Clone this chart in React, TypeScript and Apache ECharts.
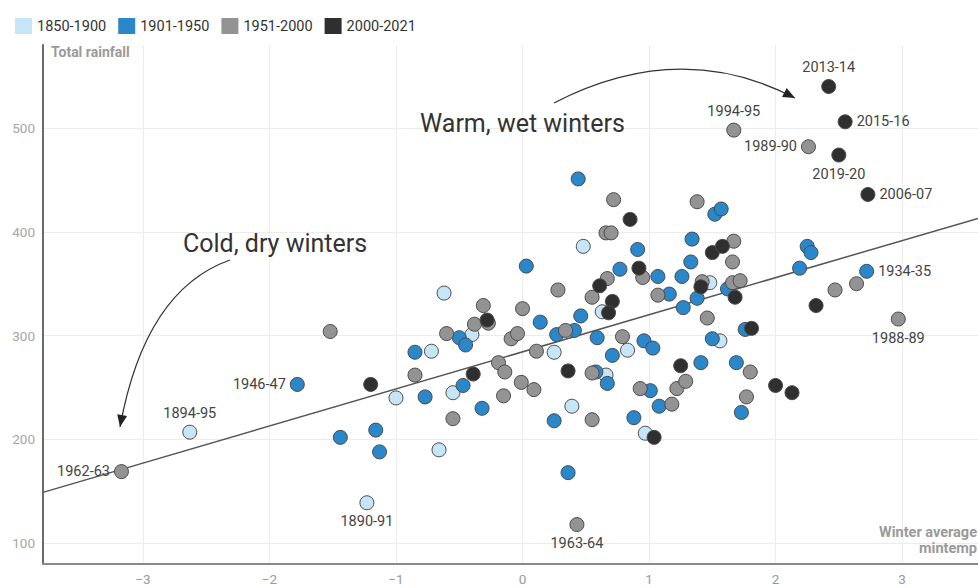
import React, { useEffect, useRef } from 'react';
import * as echarts from 'echarts';

const seriesNames = ['1850-1900', '1901-1950', '1951-2000', '2000-2021'];
const seriesColors = ['#c6e6f8', '#2a87c9', '#939393', '#2f2f2f'];

// [winter average min temp, total rainfall, label?]
const data1850: (number | string)[][] = [
  [-1.23, 139, '1890-91'], [-2.63, 207, '1894-95'], [-1.0, 240], [-0.66, 190], [-0.62, 341],
  [-0.4, 301], [-0.72, 285], [-0.55, 245], [0.25, 284], [0.39, 232], [0.48, 386], [0.63, 323],
  [0.66, 262], [0.83, 286], [0.97, 206], [1.48, 351], [1.56, 295],
];

const data1901: (number | string)[][] = [
  [-1.78, 253, '1946-47'], [-1.44, 202], [-1.16, 209], [-1.13, 188], [-0.85, 284], [-0.77, 241],
  [-0.5, 298], [-0.45, 291], [-0.47, 252], [-0.32, 230], [0.03, 367], [0.44, 451], [0.14, 313],
  [0.27, 301], [0.41, 305], [0.46, 319], [0.59, 298], [0.25, 218], [0.36, 168], [0.71, 281],
  [0.58, 265], [0.67, 254], [0.77, 364], [0.91, 383], [0.88, 221], [0.96, 295], [1.03, 288],
  [1.01, 247], [1.07, 357], [1.08, 232], [1.16, 340], [1.26, 357], [1.27, 327], [1.33, 371],
  [1.34, 393], [1.38, 336], [1.41, 274], [1.5, 297], [1.52, 417], [1.57, 422], [1.62, 345],
  [1.69, 274], [1.73, 226], [1.76, 306], [2.19, 365], [2.25, 386], [2.28, 380], [2.72, 362, '1934-35'],
];

const data1951: (number | string)[][] = [
  [-3.17, 169, '1962-63'], [-1.52, 304], [-0.85, 262], [-0.6, 302], [-0.55, 220], [-0.38, 311],
  [-0.31, 329], [-0.27, 312], [-0.19, 274], [-0.14, 265], [-0.15, 242], [-0.09, 297], [-0.04, 302],
  [0.0, 326], [-0.01, 255], [0.09, 248], [0.11, 285], [0.28, 344], [0.34, 305], [0.43, 118, '1963-64'],
  [0.55, 337], [0.55, 264], [0.55, 219], [0.66, 399], [0.7, 399], [0.67, 355], [0.72, 431],
  [0.79, 299], [0.93, 249], [0.95, 356], [1.07, 339], [1.22, 249], [1.29, 256], [1.18, 234],
  [1.38, 429], [1.42, 352], [1.46, 317], [1.66, 371], [1.67, 391], [1.66, 351], [1.72, 353],
  [1.8, 265], [1.77, 241], [1.67, 498, '1994-95'], [2.26, 482, '1989-90'], [2.47, 344], [2.64, 350],
  [2.97, 316, '1988-89'],
];

const data2000: (number | string)[][] = [
  [-1.2, 253], [-0.39, 263], [-0.28, 315], [0.36, 266], [0.61, 348], [0.71, 333], [0.68, 322],
  [0.85, 412], [0.92, 365], [1.04, 202], [1.25, 271], [1.41, 347], [1.5, 380], [1.58, 386],
  [1.68, 337], [1.81, 307], [2.0, 252], [2.13, 245], [2.32, 329], [2.42, 540, '2013-14'],
  [2.55, 506, '2015-16'], [2.5, 474, '2019-20'], [2.73, 436, '2006-07'],
];

const allData = [data1850, data1901, data1951, data2000];

// trend line end points
const trendLine: number[][] = [[-3.79, 149], [3.6, 413]];

const labelPosition: Record<string, string> = {
  '2013-14': 'top', '2015-16': 'right', '1994-95': 'top', '1989-90': 'left', '2019-20': 'bottom',
  '2006-07': 'right', '1934-35': 'right', '1988-89': 'bottom', '1962-63': 'left', '1894-95': 'top',
  '1946-47': 'left', '1890-91': 'bottom', '1963-64': 'bottom',
};

const FONT = 'Roboto, "Noto Sans", sans-serif';

function arrowHead(tx: number, ty: number, fx: number, fy: number) {
  const dx = tx - fx;
  const dy = ty - fy;
  const len = Math.sqrt(dx * dx + dy * dy);
  const ux = dx / len;
  const uy = dy / len;
  const bx = tx - ux * 12;
  const by = ty - uy * 12;
  const nx = -uy;
  const ny = ux;
  return {
    type: 'polygon',
    shape: { points: [[tx, ty], [bx + nx * 5, by + ny * 5], [bx - nx * 5, by - ny * 5]] },
    style: { fill: '#222' },
    z: 100,
  };
}

export default function App() {
  const ref = useRef<HTMLDivElement>(null);
  useEffect(() => {
    if (!ref.current) return;
    const chart = echarts.init(ref.current, undefined, { renderer: 'svg' });

    const scatterSeries = allData.map((arr, i) => ({
      name: seriesNames[i],
      type: 'scatter',
      symbolSize: 14,
      itemStyle: { color: seriesColors[i], borderColor: '#4a4a4a', borderWidth: 1, opacity: 1 },
      z: 3,
      data: arr.map((d) => {
        const item: any = { value: [d[0], d[1]] };
        if (d[2]) {
          item.name = d[2];
          item.label = {
            show: true,
            position: labelPosition[d[2] as string],
            formatter: d[2],
            color: '#444',
            fontSize: 14.5,
            fontFamily: FONT,
            distance: 4,
          };
        }
        return item;
      }),
    }));

    const warm = { x1: 554, y1: 103, cpx1: 680, cpy1: 38, x2: 795, y2: 98 };
    const cold = { x1: 230, y1: 260, cpx1: 145, cpy1: 290, x2: 120, y2: 427 };

    chart.setOption({
      animation: false,
      textStyle: { fontFamily: FONT },
      legend: {
        data: seriesNames,
        left: 10,
        top: 13,
        icon: 'rect',
        itemWidth: 17,
        itemHeight: 16,
        itemGap: 12,
        itemStyle: { borderWidth: 0 },
        textStyle: { fontSize: 14.5, color: '#333', fontFamily: FONT },
      },
      grid: { left: 43, top: 45, width: 936, height: 519 },
      xAxis: {
        type: 'value',
        min: -3.79,
        max: 3.6,
        splitNumber: 8,
        minInterval: 1,
        maxInterval: 1,
        axisLine: { show: true, onZero: false, lineStyle: { color: '#8a8a8a', width: 2 } },
        axisTick: { show: false },
        axisLabel: {
          color: '#9a9a9a',
          fontSize: 13.5,
          margin: 8,
          showMinLabel: false,
          showMaxLabel: false,
          formatter: (v: number) => (Number.isInteger(v) ? (v < 0 ? '\u2212' + Math.abs(v) : String(v)) : ''),
        },
        splitLine: { show: true, showMinLine: false, showMaxLine: false, lineStyle: { color: '#ececec', width: 1 } },
      },
      yAxis: {
        type: 'value',
        min: 80,
        max: 580,
        splitNumber: 5,
        minInterval: 100,
        maxInterval: 100,
        axisLine: { show: true, onZero: false, lineStyle: { color: '#6a6a6a', width: 2 } },
        axisTick: { show: false },
        axisLabel: {
          color: '#a5a5a5',
          fontSize: 13.5,
          margin: 8,
          showMinLabel: false,
          showMaxLabel: false,
          formatter: (v: number) => (v % 100 === 0 ? String(v) : ''),
        },
        splitLine: { show: true, showMinLine: false, showMaxLine: false, lineStyle: { color: '#ececec', width: 1 } },
      },
      series: [
        {
          name: 'trend',
          type: 'line',
          data: trendLine,
          symbol: 'none',
          lineStyle: { color: '#555', width: 1.5 },
          z: 2,
          silent: true,
        },
        ...scatterSeries,
      ],
      graphic: [
        {
          type: 'text',
          z: 100,
          style: { x: 51, y: 45, text: 'Total rainfall', fill: '#9a9a9a', fontSize: 14, fontWeight: 'bold', fontFamily: FONT, textAlign: 'left', textVerticalAlign: 'top' },
        },
        {
          type: 'text',
          z: 100,
          style: { x: 977, y: 524, text: 'Winter average\nmintemp', fill: '#9a9a9a', fontSize: 14.5, fontWeight: 'bold', fontFamily: FONT, textAlign: 'right', textVerticalAlign: 'top', lineHeight: 16 },
        },
        {
          type: 'text',
          z: 100,
          style: { x: 420, y: 123, text: 'Warm, wet winters', fill: '#333', fontSize: 25, fontFamily: FONT, textAlign: 'left', textVerticalAlign: 'middle' },
        },
        {
          type: 'text',
          z: 100,
          style: { x: 183, y: 243, text: 'Cold, dry winters', fill: '#333', fontSize: 25, fontFamily: FONT, textAlign: 'left', textVerticalAlign: 'middle' },
        },
        {
          type: 'bezierCurve',
          z: 100,
          shape: warm,
          style: { stroke: '#333', lineWidth: 1.3, fill: 'none' },
        },
        arrowHead(warm.x2, warm.y2, warm.cpx1, warm.cpy1),
        {
          type: 'bezierCurve',
          z: 100,
          shape: cold,
          style: { stroke: '#333', lineWidth: 1.3, fill: 'none' },
        },
        arrowHead(cold.x2, cold.y2, cold.cpx1, cold.cpy1),
      ],
    });
    return () => chart.dispose();
  }, []);

  return <div ref={ref} style={{ width: 978, height: 588, position: 'absolute', left: 0, top: 0 }} />;
}
